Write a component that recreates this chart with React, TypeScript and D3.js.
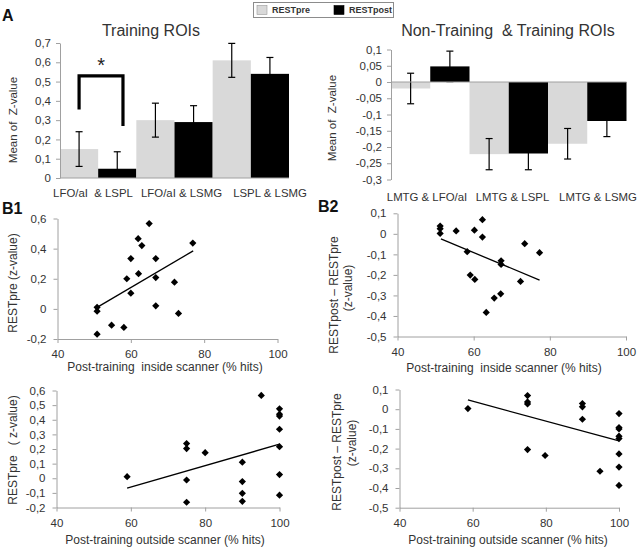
import React, { useEffect, useRef } from 'react';
import * as d3 from 'd3';

// ---- data ----
const seriesNames = ['RESTpre', 'RESTpost'];
const seriesColors = ['#d9d9d9', '#000000'];

// A, left: training ROIs
const trainCats = ['LFO/aI  & LSPL', 'LFO/aI & LSMG', 'LSPL & LSMG'];
const trainPre = [0.15, 0.3, 0.61];
const trainPreErr = [0.09, 0.088, 0.088];
const trainPost = [0.048, 0.29, 0.54];
const trainPostErr = [0.088, 0.085, 0.085];
const trainTicks = [0, 0.1, 0.2, 0.3, 0.4, 0.5, 0.6, 0.7];
const sigBracket = [0.355, 0.53, 0.27]; // left end, top, right end
const sigStar = 0.55;

// A, right: non-training & training ROIs
const ntCats = ['LMTG & LFO/aI', 'LMTG & LSPL', 'LMTG & LSMG'];
const ntPre = [-0.02, -0.222, -0.19];
const ntPreErr = [0.047, 0.048, 0.047];
const ntPost = [0.048, -0.22, -0.12];
const ntPostErr = [0.047, 0.05, 0.048];
const ntTicks = [0.1, 0.05, 0, -0.05, -0.1, -0.15, -0.2, -0.25, -0.3];

// B1 / B2 scatter data: [% hits, z-value]
const b1InsidePts: [number, number][] = [
  [65, 0.566], [62, 0.466], [63, 0.42], [76.9, 0.437], [60, 0.334], [66.8, 0.334],
  [62.1, 0.234], [58.9, 0.2], [66.8, 0.208], [71.9, 0.177], [60, 0.104], [50.8, 0.01],
  [50.8, -0.015], [66.8, 0.02], [73, -0.03], [54.75, -0.108], [58.1, -0.123], [50.8, -0.168],
];
const b1InsideTrend: [number, number][] = [[50.8, 0.01], [77, 0.385]];

const b1OutsidePts: [number, number][] = [
  [59, 0.011], [75, 0.237], [75, 0.203], [80, 0.175], [75, -0.012], [75, -0.164],
  [90, 0.11], [90, -0.023], [90, -0.103], [90, -0.158], [95.1, 0.566], [100, 0.475],
  [100, 0.438], [100, 0.425], [100, 0.335], [100, 0.216], [100, 0.025], [100, -0.116],
];
const b1OutsideTrend: [number, number][] = [[59, -0.068], [100, 0.233]];

const b2InsidePts: [number, number][] = [
  [51.2, 0.038], [51.2, 0.025], [51.2, 0.002], [55.4, 0.014], [60.2, 0.018], [62.3, 0.069],
  [62.3, -0.016], [58.3, -0.087], [73.4, -0.048], [77.3, -0.092], [67.2, -0.131], [67.2, -0.149],
  [59.1, -0.201], [60.3, -0.222], [72.3, -0.232], [67.1, -0.292], [65.4, -0.313], [63.3, -0.383],
];
const b2InsideTrend: [number, number][] = [[51.4, -0.025], [77.3, -0.225]];

const b2OutsidePts: [number, number][] = [
  [58.7, 0.003], [75, 0.069], [75, 0.037], [75, 0.027], [75, -0.205], [79.8, -0.235],
  [90, 0.029], [90, 0.012], [90, -0.051], [94.8, -0.315], [100, -0.022], [100, -0.093],
  [100, -0.1], [100, -0.137], [100, -0.149], [100, -0.227], [100, -0.294], [100, -0.387],
];
const b2OutsideTrend: [number, number][] = [[58.7, 0.047], [100, -0.161]];

const xHitTicks = [40, 60, 80, 100];
const b1InsideTicks = [-0.2, 0, 0.2, 0.4, 0.6];
const b1OutsideTicks = [-0.2, -0.1, 0, 0.1, 0.2, 0.3, 0.4, 0.5, 0.6];
const b2Ticks = [-0.5, -0.4, -0.3, -0.2, -0.1, 0, 0.1];

const FONT = 'Liberation Sans, Arial, sans-serif';
const TXT = '#333333';
const AXIS = '#a0a0a0';

const fmt = (v: number) => String(+v.toFixed(2)).replace('.', ',');

type Sel = d3.Selection<SVGGElement, unknown, null, undefined>;

function styleAxis(g: Sel) {
  g.select('.domain').attr('stroke', AXIS);
  g.selectAll('.tick line').attr('stroke', AXIS);
  g.selectAll('.tick text')
    .attr('fill', TXT)
    .attr('font-size', 11.5)
    .attr('font-family', FONT);
}

function drawBars(root: Sel, cfg: {
  cats: string[]; pre: number[]; preErr: number[]; post: number[]; postErr: number[];
  ticks: number[]; x: [number, number]; y: [number, number]; labelX: [number, number]; labelY: number;
  title: string; titleX: number; ylabX: number; ylabY: number;
}) {
  const yDom = d3.extent(cfg.ticks) as [number, number];
  const x0 = d3.scaleBand().domain(cfg.cats).range(cfg.x).paddingInner(0).paddingOuter(0);
  const x1 = d3.scaleBand().domain(seriesNames).range([0, x0.bandwidth()]).padding(0);
  const y = d3.scaleLinear().domain(yDom).range(cfg.y);
  const g = root.append('g');

  const rows = cfg.cats.map((c, i) => ({
    c, vals: [
      { s: seriesNames[0], v: cfg.pre[i], e: cfg.preErr[i] },
      { s: seriesNames[1], v: cfg.post[i], e: cfg.postErr[i] },
    ],
  }));

  const grp = g.selectAll('g.grp').data(rows).enter().append('g')
    .attr('transform', d => `translate(${x0(d.c)},0)`);

  grp.selectAll('rect').data(d => d.vals).enter().append('rect')
    .attr('x', d => x1(d.s)!)
    .attr('width', x1.bandwidth())
    .attr('y', d => y(Math.max(0, d.v)))
    .attr('height', d => Math.abs(y(d.v) - y(0)))
    .attr('fill', (d, i) => seriesColors[i]);

  // error bars
  const eb = grp.selectAll('g.eb').data(d => d.vals).enter().append('g')
    .attr('transform', d => `translate(${x1(d.s)! + x1.bandwidth() / 2},0)`);
  eb.append('line')
    .attr('y1', d => y(Math.max(yDom[0], d.v - d.e)))
    .attr('y2', d => y(d.v + d.e))
    .attr('stroke', '#000').attr('stroke-width', 1.2);
  eb.append('line').attr('x1', -3.5).attr('x2', 3.5)
    .attr('y1', d => y(d.v + d.e)).attr('y2', d => y(d.v + d.e))
    .attr('stroke', '#000').attr('stroke-width', 1.2);
  eb.filter(d => d.v - d.e >= yDom[0]).append('line').attr('x1', -3.5).attr('x2', 3.5)
    .attr('y1', d => y(d.v - d.e)).attr('y2', d => y(d.v - d.e))
    .attr('stroke', '#000').attr('stroke-width', 1.2);

  // zero line
  g.append('line').attr('x1', cfg.x[0]).attr('x2', cfg.x[1])
    .attr('y1', y(0)).attr('y2', y(0)).attr('stroke', AXIS);

  const ya = g.append('g').attr('transform', `translate(${cfg.x[0]},0)`)
    .call(d3.axisLeft(y).tickValues(cfg.ticks).tickFormat(d => fmt(+d)).tickSize(4).tickSizeOuter(0).tickPadding(5));
  styleAxis(ya);

  const lx = d3.scalePoint().domain(cfg.cats).range(cfg.labelX);
  g.selectAll('text.cat').data(cfg.cats).enter().append('text')
    .attr('x', d => lx(d)!).attr('y', cfg.labelY)
    .attr('text-anchor', 'middle').attr('dominant-baseline', 'central')
    .attr('font-size', 11.4).attr('font-family', FONT).attr('fill', TXT)
    .style('white-space', 'pre').text(d => d);

  g.append('text').attr('x', cfg.titleX).attr('y', 36)
    .attr('text-anchor', 'middle').attr('font-size', 16).attr('font-family', FONT)
    .attr('fill', TXT).style('white-space', 'pre').text(cfg.title);

  g.append('text').attr('transform', `translate(${cfg.ylabX},${cfg.ylabY}) rotate(-90)`)
    .attr('text-anchor', 'middle').attr('dominant-baseline', 'central')
    .attr('font-size', 11.5).attr('font-family', FONT).attr('fill', TXT)
    .style('white-space', 'pre').text('Mean of  Z-value');

  return { x0, x1, y, g };
}

function drawScatter(root: Sel, cfg: {
  pts: [number, number][]; trend: [number, number][]; yTicks: number[];
  x: [number, number]; y: [number, number]; xTitle: string; xTitleX: number; xTitleY: number;
  yLab: { text: string; x: number; y: number }[];
}) {
  const x = d3.scaleLinear().domain([40, 100]).range(cfg.x);
  const y = d3.scaleLinear().domain(d3.extent(cfg.yTicks) as [number, number]).range(cfg.y);
  const g = root.append('g');

  const xa = g.append('g').attr('transform', `translate(0,${cfg.y[0]})`)
    .call(d3.axisBottom(x).tickValues(xHitTicks).tickFormat(d => fmt(+d)).tickSize(4).tickSizeOuter(0).tickPadding(7));
  styleAxis(xa);
  const ya = g.append('g').attr('transform', `translate(${cfg.x[0]},0)`)
    .call(d3.axisLeft(y).tickValues(cfg.yTicks).tickFormat(d => fmt(+d)).tickSize(4).tickSizeOuter(0).tickPadding(7));
  styleAxis(ya);

  g.append('path').datum(cfg.trend)
    .attr('d', d3.line<[number, number]>().x(d => x(d[0])).y(d => y(d[1])))
    .attr('stroke', '#000').attr('stroke-width', 1.3).attr('fill', 'none');

  const sym = d3.symbol().type(d3.symbolSquare).size(26);
  g.selectAll('path.pt').data(cfg.pts).enter().append('path')
    .attr('d', sym()!)
    .attr('transform', d => `translate(${x(d[0])},${y(d[1])}) rotate(45)`)
    .attr('fill', '#000');

  g.append('text').attr('x', cfg.xTitleX).attr('y', cfg.xTitleY)
    .attr('text-anchor', 'middle').attr('dominant-baseline', 'central')
    .attr('font-size', 12).attr('font-family', FONT).attr('fill', TXT)
    .style('white-space', 'pre').text(cfg.xTitle);

  cfg.yLab.forEach(l => {
    g.append('text').attr('transform', `translate(${l.x},${l.y}) rotate(-90)`)
      .attr('text-anchor', 'middle').attr('dominant-baseline', 'central')
      .attr('font-size', 12).attr('font-family', FONT).attr('fill', TXT)
      .style('white-space', 'pre').text(l.text);
  });
}

const App: React.FC = () => {
  const svgRef = useRef<SVGSVGElement>(null);

  useEffect(() => {
    if (!svgRef.current) return;
    d3.select(svgRef.current).selectAll('*').remove();
    const root = d3.select(svgRef.current).append('g') as unknown as Sel;

    root.append('rect').attr('width', 640).attr('height', 548).attr('fill', '#fff');

    // left bar chart
    const left = drawBars(root, {
      cats: trainCats, pre: trainPre, preErr: trainPreErr, post: trainPost, postErr: trainPostErr,
      ticks: trainTicks, x: [60, 289], y: [178, 43], labelX: [93, 270], labelY: 193,
      title: 'Training ROIs', titleX: 151, ylabX: 13, ylabY: 120,
    });
    // significance bracket
    const lx = left.x0(trainCats[0])! + left.x1(seriesNames[0])! + left.x1.bandwidth() * 0.5;
    const rx = left.x0(trainCats[0])! + left.x1(seriesNames[1])! + left.x1.bandwidth() * 0.65;
    root.append('path')
      .attr('d', `M${lx},${left.y(sigBracket[0])}V${left.y(sigBracket[1])}H${rx}V${left.y(sigBracket[2])}`)
      .attr('fill', 'none').attr('stroke', '#000').attr('stroke-width', 3.2);
    root.append('text').attr('x', (lx + rx) / 2).attr('y', left.y(sigStar))
      .attr('text-anchor', 'middle').attr('font-size', 20).attr('font-family', FONT)
      .attr('fill', '#222').text('*');

    // right bar chart
    drawBars(root, {
      cats: ntCats, pre: ntPre, preErr: ntPreErr, post: ntPost, postErr: ntPostErr,
      ticks: ntTicks, x: [391, 626.5], y: [179.5, 49.5], labelX: [427, 598], labelY: 197,
      title: 'Non-Training  & Training ROIs', titleX: 508, ylabX: 332, ylabY: 118,
    });

    // legend
    const lg = root.append('g');
    lg.append('rect').attr('x', 253.5).attr('y', 2.5).attr('width', 140).attr('height', 15)
      .attr('fill', '#fff').attr('stroke', '#8c8c8c');
    const legX = [257, 334];
    seriesNames.forEach((s, i) => {
      lg.append('rect').attr('x', legX[i]).attr('y', 5.5).attr('width', 10).attr('height', 9)
        .attr('fill', seriesColors[i]).attr('stroke', i === 0 ? '#999' : '#000').attr('stroke-width', 0.6);
      lg.append('text').attr('x', legX[i] + 15).attr('y', 10)
        .attr('dominant-baseline', 'central').attr('font-size', 9).attr('font-weight', 'bold')
        .attr('font-family', FONT).attr('fill', '#333').text(s);
    });

    // panel letters
    const letters: [string, number, number][] = [['A', 2, 21], ['B1', 2, 214], ['B2', 318, 212]];
    letters.forEach(([t, x, yy]) => {
      root.append('text').attr('x', x).attr('y', yy).attr('font-size', 16).attr('font-weight', 'bold')
        .attr('font-family', FONT).attr('fill', '#111').text(t);
    });

    drawScatter(root, {
      pts: b1InsidePts, trend: b1InsideTrend, yTicks: b1InsideTicks,
      x: [57.5, 277.5], y: [339, 218.5],
      xTitle: 'Post-training  inside scanner (% hits)', xTitleX: 165, xTitleY: 367,
      yLab: [{ text: 'RESTpre (z-value)', x: 13, y: 283 }],
    });
    drawScatter(root, {
      pts: b1OutsidePts, trend: b1OutsideTrend, yTicks: b1OutsideTicks,
      x: [56.5, 279.5], y: [507.5, 390.5],
      xTitle: 'Post-training outside scanner (% hits)', xTitleX: 165, xTitleY: 540,
      yLab: [{ text: 'RESTpre   ( z-value)', x: 13, y: 450 }],
    });
    drawScatter(root, {
      pts: b2InsidePts, trend: b2InsideTrend, yTicks: b2Ticks,
      x: [397.5, 626], y: [336.5, 213.3],
      xTitle: 'Post-training  inside scanner (% hits)', xTitleX: 504, xTitleY: 368,
      yLab: [
        { text: 'RESTpost – RESTpre', x: 334, y: 295 },
        { text: '(z-value)', x: 348, y: 288 },
      ],
    });
    drawScatter(root, {
      pts: b2OutsidePts, trend: b2OutsideTrend, yTicks: b2Ticks,
      x: [399.5, 619], y: [507.7, 389.5],
      xTitle: 'Post-training outside scanner (% hits)', xTitleX: 508, xTitleY: 540,
      yLab: [
        { text: 'RESTpost – RESTpre', x: 337, y: 452 },
        { text: '(z-value)', x: 352, y: 443 },
      ],
    });
  }, []);

  return (
    <svg ref={svgRef} width={640} height={548}
      style={{ position: 'absolute', left: 0, top: 0, display: 'block' }} />
  );
};

export default App;
